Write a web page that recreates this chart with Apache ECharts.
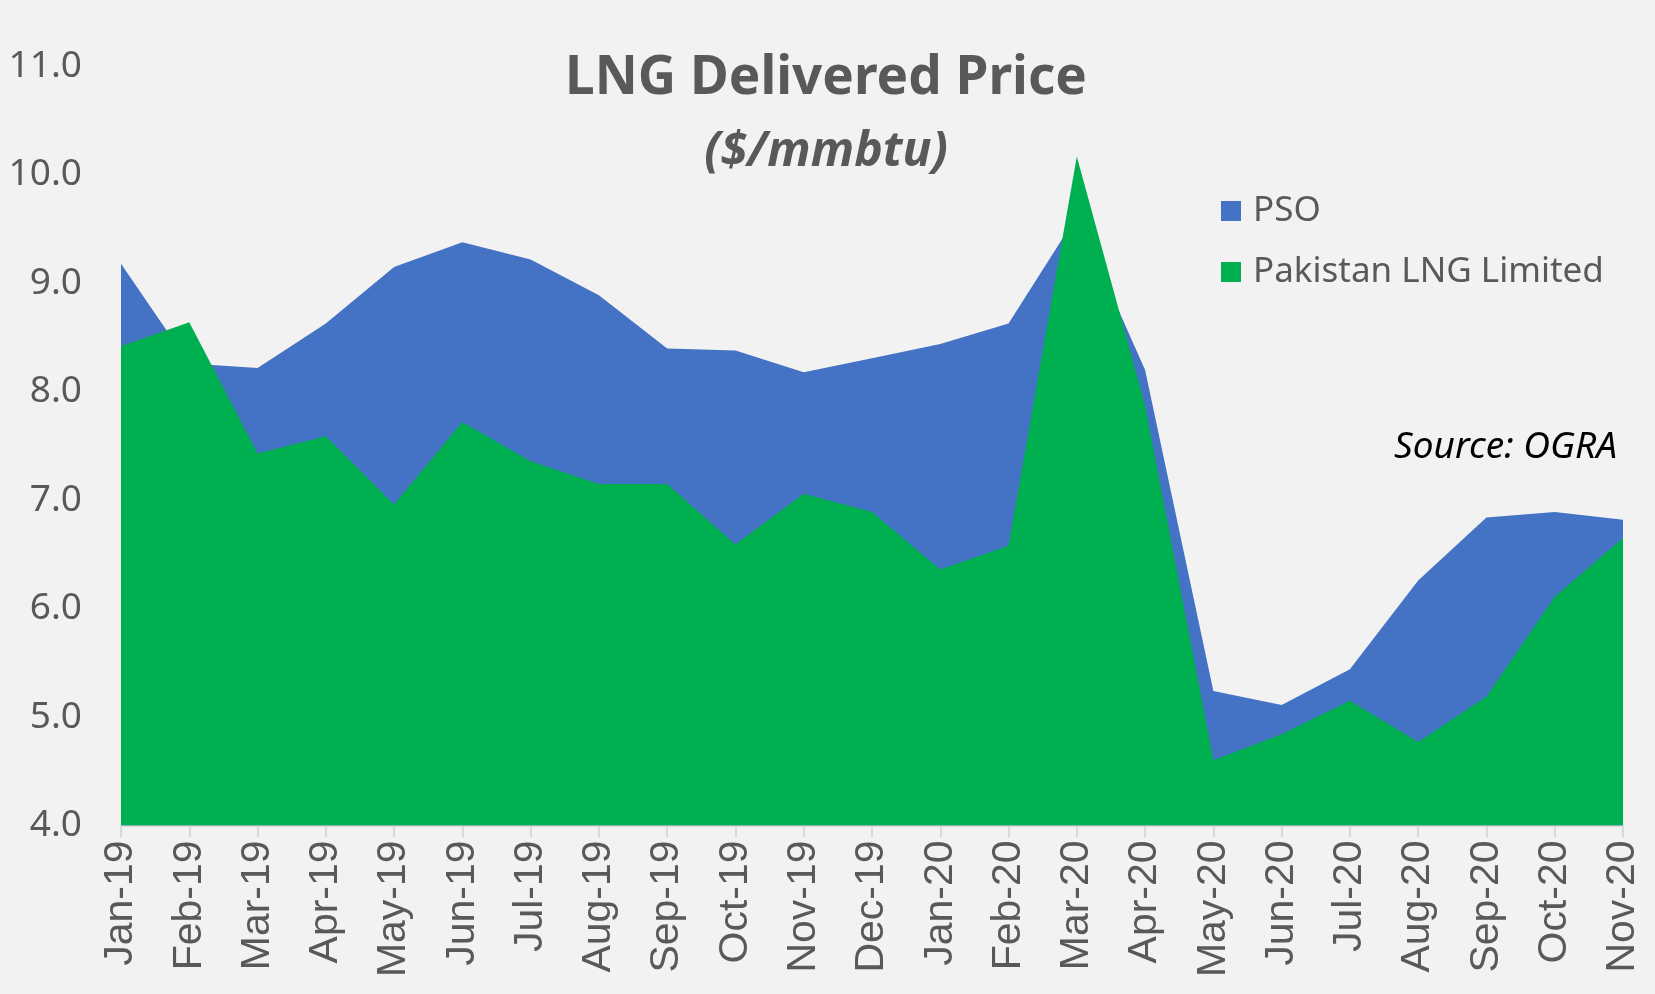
<!DOCTYPE html>
<html>
<head>
<meta charset="utf-8">
<script src="https://cdn.jsdelivr.net/npm/echarts@6/dist/echarts.min.js"></script>
<style>
html,body{margin:0;padding:0;background:#f2f2f2;}
#chart{width:1655px;height:994px;}
</style>
</head>
<body>
<div id="chart"></div>
<script>
const categories = ["Jan-19","Feb-19","Mar-19","Apr-19","May-19","Jun-19","Jul-19","Aug-19","Sep-19","Oct-19","Nov-19","Dec-19",
  "Jan-20","Feb-20","Mar-20","Apr-20","May-20","Jun-20","Jul-20","Aug-20","Sep-20","Oct-20","Nov-20"];
const psoValues = [9.18,8.26,8.22,8.63,9.15,9.38,9.22,8.89,8.40,8.38,8.18,8.31,8.44,8.63,9.62,8.20,5.24,5.11,5.44,6.26,6.84,6.89,6.82];
const pllValues = [8.42,8.64,7.43,7.59,6.96,7.72,7.36,7.15,7.15,6.59,7.06,6.89,6.36,6.58,10.17,7.87,4.60,4.84,5.15,4.77,5.19,6.11,6.65];
const seriesNames = ["PSO","Pakistan LNG Limited"];
const titleText = "LNG Delivered Price";
const subtitleText = "($/mmbtu)";
const sourceText = "Source: OGRA";

const chart = echarts.init(document.getElementById('chart'));
const font = "'Noto Sans', 'Open Sans', sans-serif";
chart.setOption({
  backgroundColor: '#f2f2f2',
  animation: false,
  grid: {left: 121, right: 32, top: 66.5, bottom: 168.6, containLabel: false},
  xAxis: {
    type: 'category',
    data: categories,
    boundaryGap: false,
    axisLine: {show: true, lineStyle: {color: '#d9d9d9', width: 2}},
    axisTick: {show: true, length: 12, lineStyle: {color: '#d9d9d9', width: 2}, alignWithLabel: true},
    axisLabel: {rotate: 90, margin: 15, color: '#595959', fontSize: 41, fontFamily: "'Liberation Sans', Arial, sans-serif", interval: 0}
  },
  yAxis: {
    type: 'value',
    min: 4, max: 11, interval: 1,
    axisLine: {show: false},
    axisTick: {show: false},
    splitLine: {show: false},
    axisLabel: {margin: 39, color: '#595959', fontSize: 37, fontFamily: font, formatter: v => v.toFixed(1)}
  },
  legend: {
    orient: 'vertical',
    left: 1216, top: 186,
    itemWidth: 20, itemHeight: 20, itemGap: 21,
    icon: 'rect',
    data: seriesNames,
    textStyle: {color: '#595959', fontSize: 35, fontFamily: font, lineHeight: 40, padding: [0,0,0,7]}
  },
  graphic: [
    {type: 'text', style: {text: titleText, x: 826, y: 79, align: 'center', verticalAlign: 'middle', font: "bold 53px 'Noto Sans', sans-serif", fill: '#595959'}},
    {type: 'text', style: {text: subtitleText, x: 826, y: 152, align: 'center', verticalAlign: 'middle', font: "italic bold 48px 'Noto Sans', sans-serif", fill: '#595959'}},
    {type: 'text', style: {text: sourceText, x: 1617, y: 447, align: 'right', verticalAlign: 'middle', font: "italic 37px 'Noto Sans', sans-serif", fill: '#000000'}}
  ],
  series: [
    {name: seriesNames[0], type: 'line', data: psoValues, symbol: 'none', lineStyle: {width: 0}, itemStyle: {color: '#4472c4'}, areaStyle: {color: '#4472c4', opacity: 1, origin: 'start'}},
    {name: seriesNames[1], type: 'line', data: pllValues, symbol: 'none', lineStyle: {width: 0}, itemStyle: {color: '#00b050'}, areaStyle: {color: '#00b050', opacity: 1, origin: 'start'}}
  ]
});
</script>
</body>
</html>
